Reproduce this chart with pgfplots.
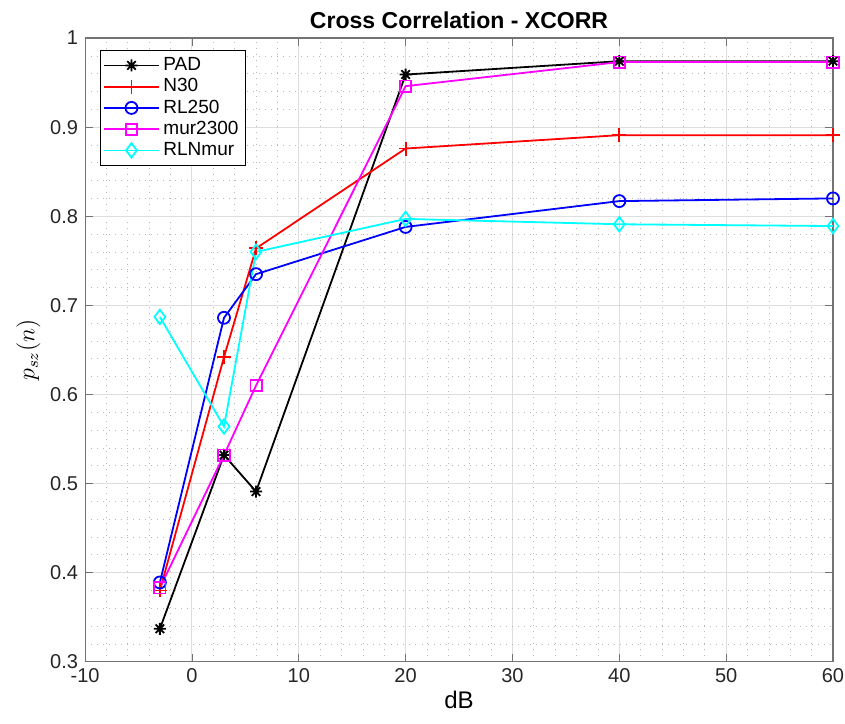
\documentclass[border=0pt]{standalone}
\usepackage{pgfplots}
\pgfplotsset{compat=1.18}
\usepackage{fontspec}
\setmainfont{Liberation Sans}
\definecolor{mmag}{rgb}{1,0,1}
\definecolor{mcyan}{rgb}{0,1,1}
\pgfdeclareplotmark{ast8}{%
  \pgfpathmoveto{\pgfqpoint{0pt}{\pgfplotmarksize}}\pgfpathlineto{\pgfqpoint{0pt}{-\pgfplotmarksize}}%
  \pgfpathmoveto{\pgfqpoint{\pgfplotmarksize}{0pt}}\pgfpathlineto{\pgfqpoint{-\pgfplotmarksize}{0pt}}%
  \pgfpathmoveto{\pgfqpoint{0.707\pgfplotmarksize}{0.707\pgfplotmarksize}}\pgfpathlineto{\pgfqpoint{-0.707\pgfplotmarksize}{-0.707\pgfplotmarksize}}%
  \pgfpathmoveto{\pgfqpoint{0.707\pgfplotmarksize}{-0.707\pgfplotmarksize}}\pgfpathlineto{\pgfqpoint{-0.707\pgfplotmarksize}{0.707\pgfplotmarksize}}%
  \pgfusepathqstroke}
\begin{document}
\begin{tikzpicture}
\begin{axis}[
  name=ax,
  scale only axis,
  width=373.5pt, height=311.5pt,
  xmin=-10, xmax=60, ymin=0.3, ymax=1,
  xtick={-10,0,...,60}, ytick={0.3,0.4,...,1.0},
  minor x tick num=4, minor y tick num=4,
  tick align=inside,
  major tick length=4pt, minor tick length=0pt,
  grid=both,
  major grid style={color=black!13, line width=0.5pt},
  minor grid style={color=black!28, dash pattern=on 0.4pt off 2.6pt, line width=0.35pt},
  axis line style={color=black!55, line width=0.6pt},
  every tick/.style={color=black!55},
  tick label style={font=\fontsize{10}{12}\selectfont, color=black!85},
  /pgf/number format/assume math mode=true,
  yticklabel style={/pgf/number format/fixed, /pgf/number format/precision=1},
  title={\bfseries Cross Correlation - XCORR},
  title style={font=\fontsize{11.5}{13}\selectfont, yshift=-5pt},
  xlabel={dB},
  xlabel style={font=\fontsize{12}{14}\selectfont, yshift=3pt},
  ylabel={$p_{sz}(n)$},
  ylabel style={font=\fontsize{12}{14}\selectfont, yshift=-2pt},
  legend style={at={(0.02,0.981)}, anchor=north west, font=\fontsize{9.5}{11}\selectfont,
    draw=black, line width=0.5pt, inner sep=1.5pt, row sep=-1.5pt, fill=white},
  legend cell align=left,
  legend image code/.code={\draw[mark repeat=2, mark phase=2] plot coordinates {(0pt,0pt) (13.5pt,0pt) (27pt,0pt)};},
  every axis plot/.append style={line width=0.9pt, mark size=3pt},
]
\addplot[black, mark=ast8, mark size=3pt, mark options={line width=0.9pt}] coordinates {(-3,0.337) (3,0.532) (6,0.491) (20,0.959) (40,0.974) (60,0.974)};
\addlegendentry{PAD}
\addplot[red, mark=+, mark size=3.5pt] coordinates {(-3,0.380) (3,0.642) (6,0.764) (20,0.876) (40,0.891) (60,0.891)};
\addlegendentry{N30}
\addplot[blue, mark=o] coordinates {(-3,0.389) (3,0.686) (6,0.735) (20,0.788) (40,0.817) (60,0.820)};
\addlegendentry{RL250}
\addplot[mmag, mark=square, mark size=2.8pt] coordinates {(-3,0.383) (3,0.532) (6,0.610) (20,0.946) (40,0.973) (60,0.973)};
\addlegendentry{mur2300}
\addplot[mcyan, mark=diamond, mark size=3.6pt] coordinates {(-3,0.687) (3,0.564) (6,0.760) (20,0.797) (40,0.791) (60,0.789)};
\addlegendentry{RLNmur}
\end{axis}
\pgfresetboundingbox
\useasboundingbox ([shift={(-42.5pt,-31pt)}]ax.south west) rectangle ([shift={(6pt,19pt)}]ax.north east);
\end{tikzpicture}
\end{document}
